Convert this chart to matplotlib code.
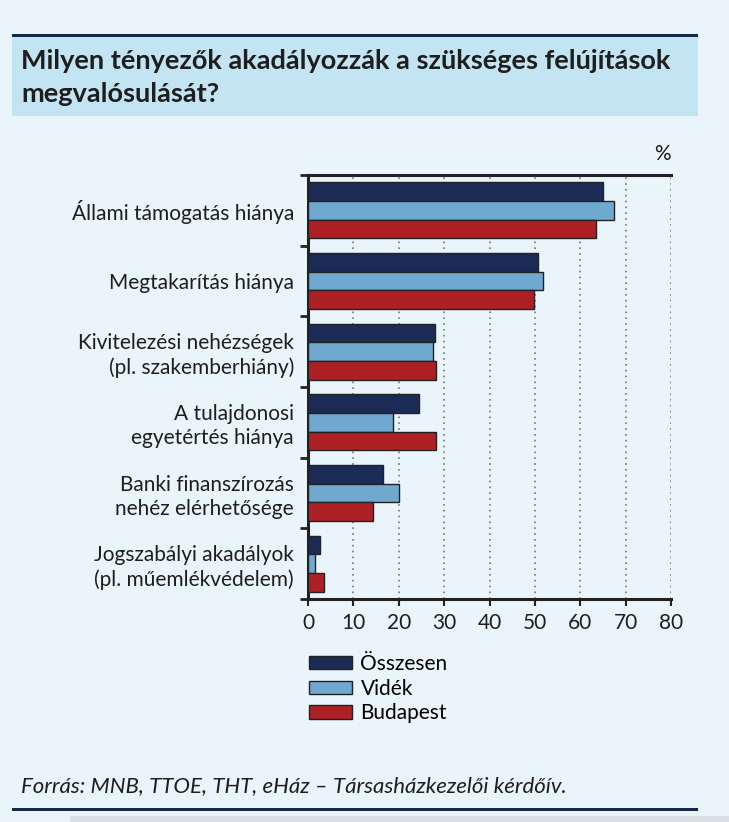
import matplotlib
matplotlib.use("Agg")
import matplotlib.pyplot as plt
from matplotlib.patches import Rectangle, Patch
import numpy as np

categories = ["Állami támogatás hiánya", "Megtakarítás hiánya",
              "Kivitelezési nehézségek\n(pl. szakemberhiány)",
              "A tulajdonosi\negyetértés hiánya",
              "Banki finanszírozás\nnehéz elérhetősége",
              "Jogszabályi akadályok\n(pl. műemlékvédelem)"]
series_names = ["Összesen", "Vidék", "Budapest"]
osszesen = [65.0, 50.7, 27.9, 24.5, 16.5, 2.6]
videk = [67.5, 51.9, 27.5, 18.7, 20.0, 1.5]
budapest = [63.4, 49.7, 28.2, 28.3, 14.3, 3.5]
xticks = [0, 10, 20, 30, 40, 50, 60, 70, 80]

colors = ["#1B2B55", "#70A9CF", "#AD2126"]
BG = "#EAF4FB"
NAVY = "#14284B"
FONT = "Lato"

W, H = 729, 822
fig = plt.figure(figsize=(W / 100, H / 100), dpi=100)
fig.patch.set_facecolor(BG)

def px(x0, y0, w, h, **kw):
    fig.patches.append(Rectangle((x0 / W, 1 - (y0 + h) / H), w / W, h / H,
                                 transform=fig.transFigure, **kw))

# title box
px(12, 36, 686, 80, facecolor="#C3E4F3", edgecolor="none")
px(12, 34, 686, 3, facecolor=NAVY, edgecolor="none")
# bottom line and strip
px(12, 808, 686, 3, facecolor=NAVY, edgecolor="none")
px(70, 816, 659, 6, facecolor="#D9E1E6", edgecolor="none")

fig.text(21 / W, 1 - 61 / H, "Milyen tényezők akadályozzák a szükséges felújítások",
         fontsize=19.5, fontweight="bold", family=FONT, color="#1E1E1E",
         ha="left", va="center")
fig.text(21 / W, 1 - 94 / H, "megvalósulását?",
         fontsize=19.5, fontweight="bold", family=FONT, color="#1E1E1E",
         ha="left", va="center")

ax = fig.add_axes([308 / W, 1 - 599 / H, (671 - 308) / W, (599 - 175) / H])
ax.set_facecolor(BG)

y = np.arange(len(categories))
h = 0.264
for i, (vals, name) in enumerate(zip([osszesen, videk, budapest], series_names)):
    ax.barh(y + (i - 1) * h, vals, height=h, color=colors[i],
            edgecolor="#222222", linewidth=1.0, label=name, zorder=3)

ax.set_xlim(0, 80)
ax.set_ylim(len(categories) - 0.5, -0.5)
ax.set_xticks(xticks)
ax.set_xticklabels([str(t) for t in xticks], fontsize=15, family=FONT, color="#1E1E1E")
ax.set_yticks(y)
ax.set_yticklabels(categories, fontsize=15, family=FONT, color="#1E1E1E",
                   linespacing=1.25)
for lbl in ax.get_yticklabels():
    lbl.set_multialignment("right")
ax.tick_params(axis="y", length=0, pad=10)
ax.set_yticks(np.arange(-0.5, len(categories) + 0.5, 1), minor=True)
ax.tick_params(axis="y", which="minor", length=6, width=2, color="#222222", direction="out")
ax.tick_params(axis="x", length=5, width=1.5, color="#222222", direction="out", pad=5)

ax.grid(axis="x", linestyle=(0, (1, 2.5)), color="#777777", linewidth=1.2, zorder=0)
for s in ["top", "left", "bottom"]:
    ax.spines[s].set_color("#222222")
    ax.spines[s].set_linewidth(2.2)
ax.spines["right"].set_visible(False)

ax.text(1.0, 1.025, "%", transform=ax.transAxes, ha="right", va="bottom",
        fontsize=15, family=FONT, color="#1E1E1E")

handles = [Patch(facecolor=c, edgecolor="#222222", linewidth=1.0) for c in colors]
fig.legend(handles, series_names, loc="upper left",
           bbox_to_anchor=(309 / W, 1 - 654 / H), frameon=False,
           prop={"family": FONT, "size": 15}, handlelength=2.07, handleheight=0.62,
           labelspacing=0.22, handletextpad=0.4, borderpad=0, borderaxespad=0)

fig.text(21 / W, 1 - 786 / H, "Forrás: MNB, TTOE, THT, eHáz – Társasházkezelői kérdőív.",
         fontsize=16, style="italic", family=FONT, color="#1E1E1E",
         ha="left", va="center")

fig.savefig("out.png", dpi=100, facecolor=BG)
